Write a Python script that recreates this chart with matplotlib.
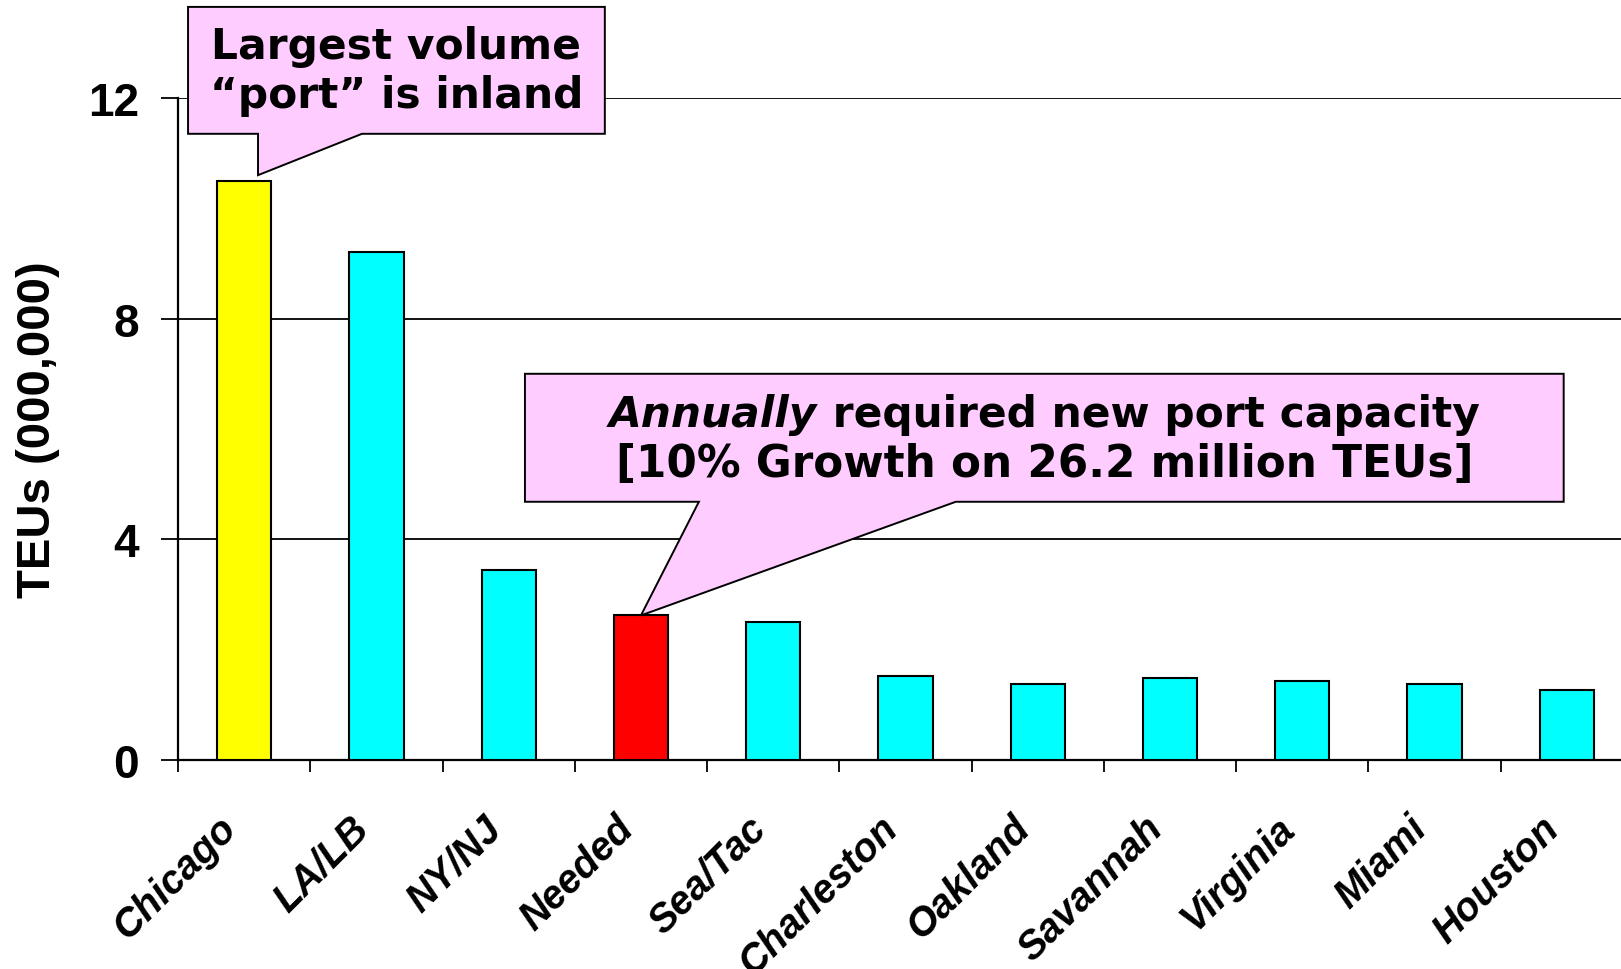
import numpy as np
from matplotlib import pyplot as plt
from matplotlib.patches import Polygon
from matplotlib.transforms import ScaledTranslation

# TEU volumes, millions
ports = ["Chicago", "LA/LB", "NY/NJ", "Needed", "Sea/Tac", "Charleston",
         "Oakland", "Savannah", "Virginia", "Miami", "Houston"]
teus = [10.5, 9.2, 3.45, 2.62, 2.5, 1.52, 1.37, 1.48, 1.44, 1.37, 1.26]
bar_colors = ["#ffff00", "#00ffff", "#00ffff", "#ff0000", "#00ffff", "#00ffff",
              "#00ffff", "#00ffff", "#00ffff", "#00ffff", "#00ffff"]
y_ticks = [0, 4, 8, 12]

PINK = "#ffccff"


def bubble(ax, box, base, tip):
    """Speech-bubble outline (data coords) with a tail ending at tip."""
    x0, y0, x1, y1 = box
    b0, b1 = base
    pts = [(x0, y0), (b0, y0), tip, (b1, y0), (x1, y0), (x1, y1), (x0, y1)]
    ax.add_patch(Polygon(pts, closed=True, facecolor=PINK, edgecolor="black",
                         linewidth=1.4, zorder=5, clip_on=False))


def main() -> None:
    fig = plt.figure(figsize=(16.21, 9.70), dpi=100)
    ax = fig.add_axes([0.1098, 0.2155, 0.8976, 0.6825])

    x = np.arange(len(ports))
    ax.bar(x, teus, width=0.41, color=bar_colors, edgecolor="black",
           linewidth=1.5, zorder=3)

    ax.set_xlim(-0.5, len(ports) - 0.5)
    ax.set_ylim(0, 12)

    # horizontal rules at each y tick
    for v in y_ticks[1:]:
        ax.axhline(v, color="black", linewidth=1.3, zorder=1)

    for side in ["top", "right"]:
        ax.spines[side].set_visible(False)
    for side in ["left", "bottom"]:
        ax.spines[side].set_linewidth(1.6)

    ax.set_yticks(y_ticks)
    ax.set_yticklabels([str(v) for v in y_ticks], fontsize=33,
                       fontweight="bold", family="Liberation Sans")
    ax.tick_params(axis="y", length=12, width=1.3, pad=16)

    # boundary ticks on the x axis, names centred under the bars
    ax.set_xticks(np.arange(len(ports) + 1) - 0.5)
    ax.set_xticklabels([])
    ax.tick_params(axis="x", which="major", length=8.5, width=1.3)
    ax.set_xticks(x, minor=True)
    ax.set_xticklabels(ports, minor=True, rotation=45, ha="right",
                       fontsize=28.5, fontweight="bold", style="italic",
                       family="Liberation Sans")
    ax.tick_params(axis="x", which="minor", length=0, pad=35)

    ax.set_ylabel("TEUs (000,000)", fontsize=34, fontweight="bold",
                  family="Liberation Sans", labelpad=20)

    # callout on Chicago
    bubble(ax, (-0.424, 11.35, 2.727, 13.65), (0.105, 0.891),
           (0.105, teus[0] + 0.1))
    ax.text((-0.424 + 2.727) / 2, 12.5,
            "Largest volume\n\u201cport\u201d is inland", ha="center",
            va="center", fontsize=30.5, fontweight="bold",
            family="DejaVu Sans", linespacing=1.2, zorder=6)

    # callout on the required new capacity
    needed = ports.index("Needed")
    bx0, bx1 = 2.123, 9.976
    bubble(ax, (bx0, 4.68, bx1, 7.0), (3.438, 5.38),
           (needed, teus[needed]))
    cx = (bx0 + bx1) / 2
    font = dict(fontsize=30.5, fontweight="bold", family="DejaVu Sans",
                zorder=6, va="baseline", ha="left")
    t1 = ax.text(cx, 6.05, "Annually", style="italic", **font)
    t2 = ax.text(cx, 6.05, " required new port capacity", **font)
    renderer = fig.canvas.get_renderer()
    w1 = t1.get_window_extent(renderer).width
    w2 = t2.get_window_extent(renderer).width
    half = (w1 + w2) / 2
    t1.set_transform(ax.transData + ScaledTranslation(
        -half / fig.dpi, 0, fig.dpi_scale_trans))
    t2.set_transform(ax.transData + ScaledTranslation(
        (w1 - half) / fig.dpi, 0, fig.dpi_scale_trans))
    ax.text(cx, 5.37, "[10% Growth on 26.2 million TEUs]",
            ha="center", va="center", fontsize=31.5, fontweight="bold",
            family="DejaVu Sans", zorder=6)

    fig.savefig("out.png", dpi=100)


if __name__ == '__main__':
    main()
